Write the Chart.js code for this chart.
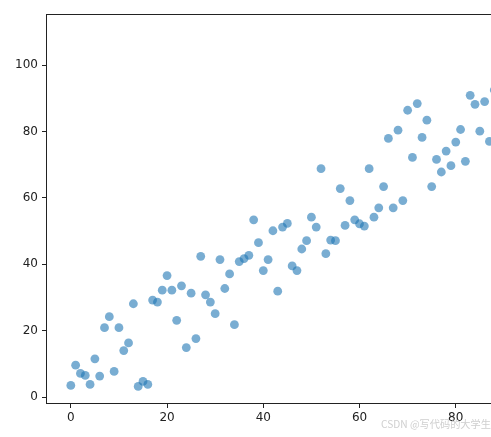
<!DOCTYPE html>
<html>
<head>
<meta charset="utf-8">
<script src="https://cdn.jsdelivr.net/npm/chart.js@4.4.1/dist/chart.umd.min.js"></script>
<style>
html, body { margin:0; padding:0; overflow:hidden; background:#fff; width:491px; height:437px; }
#wrap { position:relative; width:600px; height:437px; }
#mark { position:absolute; left:381px; top:417px; font-family:"Noto Sans CJK SC","DejaVu Sans",sans-serif; font-size:10.2px; line-height:14px; color:#cfcfcf; white-space:nowrap; }
</style>
</head>
<body>
<div id="wrap">
<canvas id="c" width="600" height="437"></canvas>
<div id="mark">CSDN @写代码的大学生</div>
</div>
<script>
const xValues = [0,1,2,3,4,5,6,7,8,9,10,11,12,13,14,15,16,17,18,19,20,21,22,23,24,25,26,27,28,29,30,31,32,33,34,35,36,37,38,39,40,41,42,43,44,45,46,47,48,49,50,51,52,53,54,55,56,57,58,59,60,61,62,63,64,65,66,67,68,69,70,71,72,73,74,75,76,77,78,79,80,81,82,83,84,85,86,87,88];
const yValues = [3.5,9.6,7.1,6.5,3.8,11.5,6.3,20.9,24.2,7.7,20.9,14.0,16.3,28.1,3.2,4.7,3.8,29.2,28.6,32.2,36.6,32.2,23.1,33.5,14.9,31.3,17.6,42.4,30.8,28.6,25.1,41.4,32.7,37.1,21.8,40.8,41.7,42.7,53.4,46.5,38.1,41.4,50.1,31.9,51.2,52.3,39.5,38.1,44.6,47.1,54.2,51.2,68.8,43.2,47.3,47.1,62.8,51.7,59.2,53.4,52.2,51.5,68.8,54.2,57.0,63.4,77.9,57.0,80.4,59.2,86.4,72.2,88.4,78.2,83.4,63.4,71.6,67.8,74.1,69.7,76.8,80.6,71.0,90.9,88.2,80.1,89.0,77.0,92.5];
const xTicks = [0,20,40,60,80,100];
const yTicks = [0,20,40,60,80,100];

const points = xValues.map((x,i)=>({x:x, y:yValues[i]}));

const frame = {
  id:'frame',
  afterDatasetsDraw(chart){
    const a = chart.chartArea, ctx = chart.ctx;
    ctx.save();
    ctx.strokeStyle = '#222';
    ctx.lineWidth = 1;
    ctx.strokeRect(Math.round(a.left)-0.5, Math.round(a.top)+0.5, Math.round(a.right-a.left)+1, Math.round(a.bottom-a.top));
    ctx.restore();
  }
};

const font = {family:'DejaVu Sans', size:12};
new Chart(document.getElementById('c'), {
  type:'scatter',
  data:{ datasets:[{ data:points, backgroundColor:'rgba(31,119,180,0.6)', borderWidth:0, pointRadius:4.4, pointHoverRadius:4.4 }]},
  options:{
    responsive:false, animation:false, devicePixelRatio:1,
    layout:{ padding:{ left:0, top:14, right:29, bottom:0 } },
    plugins:{ legend:{display:false}, tooltip:{enabled:false} },
    scales:{
      x:{
        type:'linear', min:-4.95, max:103.95,
        afterBuildTicks(s){ s.ticks = xTicks.map(v=>({value:v})); },
        afterFit(s){ s.height = 34; },
        grid:{ drawOnChartArea:false, drawTicks:true, tickLength:5, color:'#222' },
        border:{ display:false },
        ticks:{ font:font, color:'#222', padding:3, maxRotation:0, callback:v=>String(v) }
      },
      y:{
        type:'linear', min:-1.8, max:115.4,
        afterBuildTicks(s){ s.ticks = yTicks.map(v=>({value:v})); },
        afterFit(s){ s.width = 47; },
        grid:{ drawOnChartArea:false, drawTicks:true, tickLength:5, color:'#222' },
        border:{ display:false },
        ticks:{ font:font, color:'#222', padding:4, callback:v=>String(v) }
      }
    }
  },
  plugins:[frame]
});
</script>
</body>
</html>
